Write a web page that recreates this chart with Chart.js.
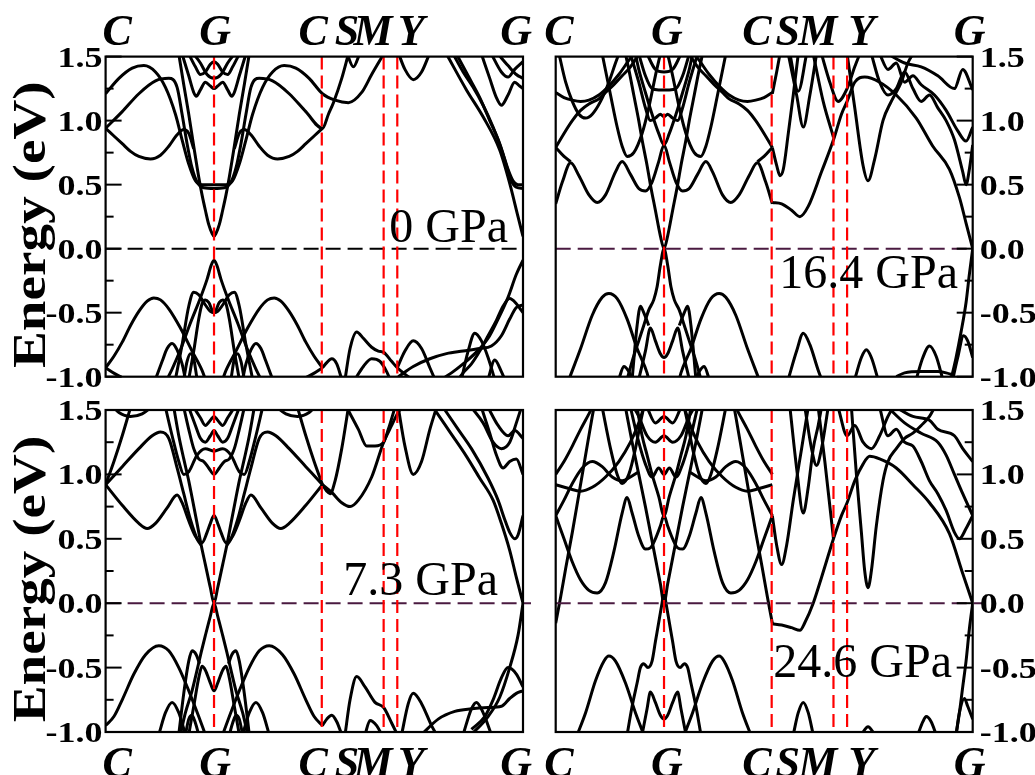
<!DOCTYPE html>
<html><head><meta charset="utf-8">
<script src="https://cdn.jsdelivr.net/npm/chart.js@4.4.1/dist/chart.umd.min.js"></script>
<style>
html,body{margin:0;padding:0;background:#fff;width:1035px;height:775px;overflow:hidden}
canvas{position:absolute;left:0;top:0}
.fl{position:absolute;left:-2000px;top:0;font-family:"Liberation Serif"}
</style></head>
<body>
<div class="fl" style="font-weight:bold">1.5 Energy</div>
<div class="fl" style="font-weight:bold;font-style:italic">CGSMY</div>
<div class="fl">0 GPa</div>
<canvas id="p0" width="1035" height="775"></canvas>
<canvas id="p1" width="1035" height="775"></canvas>
<canvas id="p2" width="1035" height="775"></canvas>
<canvas id="p3" width="1035" height="775"></canvas>
<script>
// ---------- k-path / axis data ----------
const K_END = 2.51;
const K_LINES = [0.652, 1.300, 1.672, 1.754];           // G, C, M, Y (dashed red)
const K_LABELS = ['C','G','C','S','M','Y','G'];
const KPOS_LEFT  = [0.069, 0.658, 1.248, 1.452, 1.608, 1.837, 2.469];
const KPOS_RIGHT = [0.020, 0.669, 1.211, 1.397, 1.578, 1.842, 2.492];
const Y_MIN = -1.0, Y_MAX = 1.5;
const Y_MAJOR = [1.5, 1.0, 0.5, 0.0, -0.5, -1.0];
const Y_MAJOR_LABELS = ['1.5','1.0','0.5','0.0','-0.5','-1.0'];
const Y_MINOR = [1.25, 0.75, 0.25, -0.25, -0.75];
const PRESSURES = ['0 GPa','16.4 GPa','7.3 GPa','24.6 GPa'];

// ---------- band data [k, E(eV)] ----------
const BANDS_0GPA = [
 [[0,1.21],[0.08,1.33],[0.16,1.41],[0.23,1.43],[0.3,1.38],[0.36,1.26],[0.42,1.05],[0.46,0.85],[0.5,0.66],[0.54,0.53],[0.58,0.5],[0.652,0.5],[0.724,0.5],[0.764,0.53],[0.804,0.66],[0.844,0.85],[0.884,1.05],[0.944,1.26],[1.004,1.38],[1.074,1.43],[1.144,1.41],[1.224,1.33],[1.304,1.21],[1.38,1.16],[1.46,1.14],[1.54,1.22],[1.6,1.36],[1.672,1.52]],
 [[0,0.94],[0.1,1.07],[0.2,1.21],[0.3,1.31],[0.38,1.33],[0.43,1.26],[0.46,1.05],[0.49,0.82],[0.52,0.63],[0.55,0.52],[0.59,0.475],[0.652,0.47],[0.714,0.475],[0.754,0.52],[0.784,0.63],[0.814,0.82],[0.844,1.05],[0.874,1.26],[0.924,1.33],[1.004,1.31],[1.104,1.21],[1.204,1.07],[1.304,0.94],[1.34,1.05],[1.37,1.14],[1.42,1.33],[1.46,1.52]],
 [[0,0.94],[0.05,0.88],[0.1,0.82],[0.15,0.76],[0.2,0.72],[0.27,0.7],[0.33,0.73],[0.38,0.8],[0.43,0.89],[0.47,0.93],[0.5,0.9],[0.53,0.78]],
 [[0.774,0.78],[0.804,0.9],[0.834,0.93],[0.874,0.89],[0.924,0.8],[0.974,0.73],[1.034,0.7],[1.104,0.72],[1.154,0.76],[1.204,0.82],[1.254,0.88],[1.304,0.94]],
 [[0.44,1.52],[0.47,1.28],[0.5,1.05],[0.53,0.8],[0.56,0.56],[0.58,0.42],[0.6,0.3],[0.62,0.19],[0.64,0.12],[0.652,0.096],[0.664,0.12],[0.684,0.19],[0.704,0.3],[0.724,0.42],[0.744,0.56],[0.774,0.8],[0.804,1.05],[0.834,1.28],[0.864,1.52]],
 [[0.46,1.52],[0.5,1.35],[0.53,1.22],[0.545,1.19],[0.57,1.24],[0.6,1.3],[0.63,1.27],[0.652,1.25],[0.674,1.27],[0.704,1.3],[0.734,1.24],[0.759,1.19],[0.774,1.22],[0.804,1.35],[0.844,1.52]],
 [[0.5,1.52],[0.54,1.42],[0.57,1.36],[0.6,1.38],[0.63,1.44],[0.652,1.46],[0.674,1.44],[0.704,1.38],[0.734,1.36],[0.764,1.42],[0.804,1.52]],
 [[0.53,1.52],[0.57,1.45],[0.61,1.36],[0.652,1.33],[0.694,1.36],[0.734,1.45],[0.774,1.52]],
 [[1.45,1.53],[1.49,1.42],[1.53,1.53]],
 [[1.76,1.53],[1.8,1.4],[1.85,1.32],[1.9,1.38],[1.95,1.53]],
 [[2.05,1.52],[2.17,1.24],[2.27,1.03],[2.37,0.77],[2.43,0.51],[2.48,0.25],[2.51,0.096]],
 [[2.09,1.52],[2.15,1.38],[2.21,1.26],[2.27,1.12],[2.33,0.95],[2.38,0.78],[2.42,0.62],[2.45,0.53],[2.48,0.5],[2.51,0.5]],
 [[2.11,1.52],[2.18,1.35],[2.25,1.18],[2.31,1.0],[2.37,0.82],[2.41,0.65],[2.44,0.53],[2.47,0.48],[2.51,0.47]],
 [[2.26,1.52],[2.31,1.33],[2.35,1.18],[2.38,1.12],[2.42,1.2],[2.46,1.3],[2.49,1.27],[2.51,1.25]],
 [[2.32,1.52],[2.38,1.38],[2.42,1.34],[2.46,1.4],[2.51,1.46]],
 [[2.36,1.52],[2.42,1.43],[2.47,1.36],[2.51,1.33]],
 [[0.37,-1.02],[0.4,-0.94],[0.45,-0.79],[0.51,-0.58],[0.57,-0.385],[0.61,-0.24],[0.635,-0.13],[0.652,-0.09],[0.669,-0.13],[0.694,-0.24],[0.734,-0.385],[0.794,-0.58],[0.854,-0.79],[0.904,-0.94],[0.934,-1.02]],
 [[0,-0.93],[0.05,-0.84],[0.1,-0.73],[0.15,-0.6],[0.2,-0.49],[0.25,-0.41],[0.29,-0.385],[0.33,-0.4],[0.38,-0.47],[0.45,-0.62],[0.52,-0.8],[0.58,-0.95],[0.6,-1.02]],
 [[0.704,-1.02],[0.724,-0.95],[0.784,-0.8],[0.854,-0.62],[0.924,-0.47],[0.974,-0.4],[1.014,-0.385],[1.054,-0.41],[1.104,-0.49],[1.154,-0.6],[1.204,-0.73],[1.254,-0.84],[1.304,-0.93]],
 [[0.42,-1.02],[0.46,-0.75],[0.5,-0.45],[0.53,-0.34],[0.56,-0.36],[0.6,-0.44],[0.63,-0.49],[0.652,-0.5],[0.674,-0.49],[0.704,-0.44],[0.744,-0.36],[0.774,-0.34],[0.804,-0.45],[0.844,-0.75],[0.884,-1.02]],
 [[0.5,-1.02],[0.53,-0.8],[0.56,-0.55],[0.58,-0.43],[0.6,-0.4],[0.62,-0.42],[0.652,-0.5],[0.684,-0.42],[0.704,-0.4],[0.724,-0.43],[0.744,-0.55],[0.774,-0.8],[0.804,-1.02]],
 [[0.3,-1.02],[0.34,-0.88],[0.37,-0.78],[0.4,-0.74],[0.43,-0.79],[0.46,-0.9],[0.48,-1.02]],
 [[0.824,-1.02],[0.844,-0.9],[0.874,-0.79],[0.904,-0.74],[0.934,-0.78],[0.964,-0.88],[1.004,-1.02]],
 [[0.47,-1.02],[0.49,-0.88],[0.51,-0.82],[0.53,-0.86],[0.55,-1.02]],
 [[0.754,-1.02],[0.774,-0.86],[0.794,-0.82],[0.814,-0.88],[0.834,-1.02]],
 [[0,-0.93],[0.06,-0.98],[0.12,-1.02]],
 [[1.184,-1.02],[1.244,-0.98],[1.304,-0.93]],
 [[1.304,-0.93],[1.33,-0.89],[1.36,-0.86],[1.39,-0.9],[1.42,-1.02]],
 [[1.44,-1.02],[1.47,-0.78],[1.51,-0.65],[1.55,-0.7],[1.6,-0.77],[1.64,-0.8],[1.672,-0.81],[1.72,-0.88],[1.754,-0.93],[1.8,-0.98],[1.84,-1.02]],
 [[1.754,-0.93],[1.8,-0.8],[1.85,-0.72],[1.9,-0.78],[1.95,-0.93],[1.98,-1.02]],
 [[1.5,-1.02],[1.55,-0.92],[1.6,-0.86],[1.65,-0.88],[1.69,-0.96],[1.71,-1.02]],
 [[1.76,-1.0],[1.85,-0.92],[1.95,-0.86],[2.05,-0.82],[2.15,-0.8],[2.25,-0.78],[2.32,-0.76],[2.38,-0.68],[2.43,-0.55],[2.47,-0.46],[2.51,-0.44]],
 [[2.02,-1.02],[2.08,-0.97],[2.15,-0.9],[2.22,-0.82],[2.3,-0.7],[2.36,-0.55],[2.42,-0.38],[2.47,-0.2],[2.51,-0.09]],
 [[2.12,-1.02],[2.15,-0.97],[2.2,-0.9],[2.25,-0.8],[2.3,-0.68],[2.35,-0.56],[2.39,-0.45],[2.43,-0.39],[2.47,-0.43],[2.51,-0.5]],
 [[2.14,-1.02],[2.18,-0.8],[2.22,-0.66],[2.26,-0.72],[2.3,-0.85],[2.34,-1.02]],
 [[2.3,-1.02],[2.34,-0.87],[2.38,-0.96],[2.4,-1.02]]
];

const BANDS_7GPA = [
 [[0,0.92],[0.1,1.06],[0.2,1.2],[0.28,1.3],[0.33,1.33],[0.38,1.28],[0.43,1.05],[0.47,0.85],[0.51,0.65],[0.55,0.5],[0.575,0.45]],
 [[0.729,0.45],[0.754,0.5],[0.794,0.65],[0.834,0.85],[0.874,1.05],[0.924,1.28],[0.974,1.33],[1.024,1.3],[1.104,1.2],[1.204,1.06],[1.304,0.92]],
 [[0,0.92],[0.1,0.76],[0.2,0.62],[0.25,0.58],[0.3,0.62],[0.37,0.74],[0.43,0.84],[0.46,0.78],[0.5,0.64],[0.54,0.52],[0.58,0.47],[0.61,0.55],[0.63,0.62],[0.652,0.68],[0.674,0.62],[0.694,0.55],[0.724,0.47],[0.764,0.52],[0.804,0.64],[0.844,0.78],[0.874,0.84],[0.934,0.74],[1.004,0.62],[1.054,0.58],[1.104,0.62],[1.204,0.76],[1.304,0.92]],
 [[0.41,1.52],[0.44,1.3],[0.47,1.12],[0.5,0.95],[0.52,0.82],[0.55,0.62],[0.575,0.45],[0.6,0.3],[0.63,0.12],[0.652,0.0],[0.674,0.12],[0.704,0.3],[0.729,0.45],[0.754,0.62],[0.784,0.82],[0.804,0.95],[0.834,1.12],[0.864,1.3],[0.894,1.52]],
 [[0,0.92],[0.05,1.1],[0.1,1.3],[0.15,1.52]],
 [[1.154,1.52],[1.204,1.3],[1.254,1.1],[1.304,0.92]],
 [[0.03,1.55],[0.08,1.48],[0.15,1.45],[0.22,1.47],[0.3,1.55]],
 [[1.004,1.55],[1.084,1.47],[1.154,1.45],[1.224,1.48],[1.274,1.55]],
 [[0.47,1.52],[0.5,1.35],[0.53,1.2],[0.56,1.12],[0.59,1.1],[0.62,1.05],[0.652,1.0],[0.684,1.05],[0.714,1.1],[0.744,1.12],[0.774,1.2],[0.804,1.35],[0.834,1.52]],
 [[0.5,1.52],[0.54,1.38],[0.57,1.28],[0.6,1.25],[0.63,1.3],[0.652,1.34],[0.674,1.3],[0.704,1.25],[0.734,1.28],[0.764,1.38],[0.804,1.52]],
 [[0.53,1.52],[0.57,1.44],[0.6,1.38],[0.63,1.42],[0.652,1.45],[0.674,1.42],[0.704,1.38],[0.734,1.44],[0.774,1.52]],
 [[0.36,1.52],[0.4,1.3],[0.44,1.1],[0.47,1.0],[0.5,1.02],[0.55,1.15],[0.6,1.2],[0.652,1.18],[0.704,1.2],[0.754,1.15],[0.804,1.02],[0.834,1.0],[0.864,1.1],[0.904,1.3],[0.944,1.52]],
 [[1.304,0.92],[1.36,0.86],[1.42,0.78],[1.47,0.75],[1.52,0.8],[1.6,0.98],[1.672,1.25],[1.72,1.38],[1.754,1.47],[1.78,1.52]],
 [[1.304,0.92],[1.33,0.87],[1.35,0.85],[1.38,0.95],[1.42,1.2],[1.46,1.52]],
 [[1.45,1.52],[1.52,1.35],[1.57,1.22],[1.62,1.22],[1.672,1.25],[1.7,1.35],[1.74,1.52]],
 [[1.76,1.52],[1.8,1.22],[1.85,1.0],[1.9,1.1],[1.95,1.35],[1.99,1.52]],
 [[1.97,1.52],[2.07,1.33],[2.17,1.14],[2.25,0.97],[2.33,0.8],[2.38,0.62],[2.43,0.41],[2.47,0.2],[2.51,0.0]],
 [[2.03,1.52],[2.12,1.35],[2.2,1.2],[2.3,0.97],[2.36,0.8],[2.4,0.65],[2.43,0.55],[2.46,0.5],[2.48,0.53],[2.51,0.68]],
 [[2.26,1.52],[2.31,1.32],[2.35,1.15],[2.39,1.05],[2.43,1.1],[2.47,1.12],[2.51,1.0]],
 [[2.3,1.52],[2.36,1.38],[2.42,1.3],[2.46,1.34],[2.51,1.28]],
 [[2.2,1.52],[2.27,1.4],[2.33,1.25],[2.38,1.2],[2.43,1.25],[2.47,1.4],[2.5,1.52]],
 [[0.45,-1.02],[0.48,-0.85],[0.52,-0.68],[0.55,-0.52],[0.575,-0.38],[0.6,-0.25],[0.63,-0.1],[0.652,0.0],[0.674,-0.1],[0.704,-0.25],[0.729,-0.38],[0.754,-0.52],[0.784,-0.68],[0.824,-0.85],[0.854,-1.02]],
 [[0,-0.95],[0.05,-0.88],[0.1,-0.75],[0.17,-0.55],[0.24,-0.4],[0.32,-0.33],[0.38,-0.37],[0.44,-0.5],[0.5,-0.68],[0.56,-0.88],[0.6,-1.02]],
 [[0.704,-1.02],[0.744,-0.88],[0.804,-0.68],[0.864,-0.5],[0.924,-0.37],[0.984,-0.33],[1.064,-0.4],[1.134,-0.55],[1.204,-0.75],[1.254,-0.88],[1.304,-0.95]],
 [[0.5,-1.02],[0.53,-0.8],[0.56,-0.58],[0.58,-0.49],[0.6,-0.52],[0.63,-0.62],[0.652,-0.68],[0.674,-0.62],[0.704,-0.52],[0.724,-0.49],[0.744,-0.58],[0.774,-0.8],[0.804,-1.02]],
 [[0.44,-1.02],[0.47,-0.7],[0.5,-0.45],[0.52,-0.37],[0.545,-0.4],[0.565,-0.47]],
 [[0.739,-0.47],[0.759,-0.4],[0.784,-0.37],[0.804,-0.45],[0.834,-0.7],[0.864,-1.02]],
 [[0.32,-1.02],[0.36,-0.85],[0.4,-0.77],[0.44,-0.85],[0.48,-1.02]],
 [[0.824,-1.02],[0.864,-0.85],[0.904,-0.77],[0.944,-0.85],[0.984,-1.02]],
 [[0.48,-1.02],[0.5,-0.9],[0.52,-0.87],[0.54,-0.93],[0.56,-1.02]],
 [[0.744,-1.02],[0.764,-0.93],[0.784,-0.87],[0.804,-0.9],[0.824,-1.02]],
 [[1.304,-0.95],[1.33,-0.9],[1.36,-0.87],[1.39,-0.92],[1.42,-1.02]],
 [[1.44,-1.02],[1.47,-0.75],[1.51,-0.57],[1.56,-0.65],[1.62,-0.77],[1.672,-0.81],[1.72,-0.93],[1.754,-1.02]],
 [[1.78,-1.02],[1.82,-0.78],[1.85,-0.7],[1.9,-0.78],[1.96,-0.95],[1.99,-1.02]],
 [[1.56,-1.02],[1.59,-0.91],[1.63,-0.95],[1.66,-1.02]],
 [[1.9,-1.02],[2.0,-0.9],[2.1,-0.84],[2.2,-0.82],[2.3,-0.81],[2.38,-0.8],[2.43,-0.74],[2.47,-0.7],[2.51,-0.68]],
 [[2.2,-1.02],[2.3,-0.88],[2.37,-0.73],[2.43,-0.5],[2.48,-0.25],[2.51,0.0]],
 [[2.2,-0.98],[2.28,-0.88],[2.33,-0.75],[2.38,-0.58],[2.42,-0.5],[2.47,-0.55],[2.51,-0.65]],
 [[2.15,-1.02],[2.2,-0.82],[2.23,-0.77],[2.27,-0.85],[2.32,-1.02]]
];

const BANDS_16GPA = [
 [[0,0.35],[0.04,0.52],[0.09,0.67],[0.14,0.57],[0.2,0.42],[0.25,0.36],[0.3,0.42],[0.36,0.6],[0.4,0.68],[0.45,0.58],[0.5,0.47],[0.54,0.45],[0.58,0.52],[0.62,0.68],[0.652,0.81],[0.684,0.68],[0.724,0.52],[0.764,0.45],[0.804,0.47],[0.854,0.58],[0.904,0.68],[0.944,0.6],[1.004,0.42],[1.054,0.36],[1.104,0.42],[1.164,0.57],[1.214,0.67],[1.264,0.52],[1.304,0.35]],
 [[0.42,1.52],[0.44,1.4],[0.47,1.2],[0.5,1.0],[0.52,0.85],[0.55,0.65],[0.57,0.5],[0.6,0.3],[0.63,0.1],[0.652,0.0],[0.674,0.1],[0.704,0.3],[0.734,0.5],[0.754,0.65],[0.784,0.85],[0.804,1.0],[0.834,1.2],[0.864,1.4],[0.884,1.52]],
 [[0.48,1.52],[0.5,1.4],[0.54,1.22],[0.58,1.05],[0.62,0.9],[0.652,0.81],[0.684,0.9],[0.724,1.05],[0.764,1.22],[0.804,1.4],[0.824,1.52]],
 [[0,0.79],[0.05,0.9],[0.1,1.0],[0.15,1.08],[0.2,1.13],[0.26,1.17],[0.3,1.22],[0.35,1.28],[0.4,1.35],[0.45,1.42],[0.5,1.52]],
 [[0.804,1.52],[0.854,1.42],[0.904,1.35],[0.954,1.28],[1.004,1.22],[1.044,1.17],[1.104,1.13],[1.154,1.08],[1.204,1.0],[1.254,0.9],[1.304,0.79]],
 [[0,0.79],[0.05,0.72],[0.09,0.68]],
 [[1.214,0.68],[1.254,0.72],[1.304,0.79]],
 [[0,1.22],[0.05,1.18],[0.1,1.16],[0.15,1.15],[0.2,1.16],[0.26,1.2],[0.32,1.27],[0.38,1.36],[0.44,1.47],[0.47,1.52]],
 [[0.834,1.52],[0.864,1.47],[0.924,1.36],[0.984,1.27],[1.044,1.2],[1.104,1.16],[1.154,1.15],[1.204,1.16],[1.254,1.18],[1.304,1.22]],
 [[0.5,1.52],[0.54,1.35],[0.58,1.25],[0.62,1.24],[0.652,1.24],[0.684,1.24],[0.724,1.25],[0.764,1.35],[0.804,1.52]],
 [[0.45,1.52],[0.5,1.3],[0.54,1.1],[0.57,1.0],[0.6,1.02],[0.63,1.05],[0.652,1.03],[0.674,1.05],[0.704,1.02],[0.734,1.0],[0.764,1.1],[0.804,1.3],[0.854,1.52]],
 [[0.55,1.52],[0.6,1.4],[0.652,1.38],[0.704,1.4],[0.754,1.52]],
 [[0.28,1.52],[0.33,1.2],[0.37,0.95],[0.4,0.8],[0.43,0.72],[0.47,0.75],[0.52,0.9],[0.56,1.1],[0.6,1.35],[0.63,1.52]],
 [[0.674,1.52],[0.704,1.35],[0.744,1.1],[0.784,0.9],[0.834,0.75],[0.874,0.72],[0.904,0.8],[0.934,0.95],[0.974,1.2],[1.024,1.52]],
 [[0.02,1.52],[0.06,1.3],[0.1,1.15],[0.14,1.05],[0.18,1.02],[0.22,1.05],[0.27,1.15],[0.32,1.3],[0.36,1.45],[0.38,1.52]],
 [[1.304,0.36],[1.36,0.35],[1.42,0.3],[1.47,0.25],[1.52,0.33],[1.6,0.6],[1.672,0.85],[1.72,1.05],[1.754,1.15],[1.8,1.3],[1.86,1.34],[1.95,1.3],[2.05,1.2],[2.17,1.02],[2.27,0.8],[2.37,0.62],[2.43,0.4],[2.47,0.2],[2.51,0.0]],
 [[1.304,0.79],[1.33,0.65],[1.35,0.57],[1.37,0.62],[1.4,0.9],[1.43,1.2],[1.46,1.52]],
 [[1.304,1.21],[1.33,1.38],[1.35,1.52]],
 [[1.4,1.52],[1.45,1.2],[1.49,0.95],[1.53,1.2],[1.57,1.52]],
 [[1.41,1.52],[1.46,1.23],[1.51,1.52]],
 [[1.55,1.52],[1.61,1.15],[1.672,0.87]],
 [[1.754,1.52],[1.8,1.1],[1.85,0.65],[1.88,0.53],[1.92,0.7],[1.97,1.0],[2.02,1.15],[2.08,1.3],[2.12,1.45],[2.15,1.52]],
 [[1.9,1.52],[1.95,1.3],[2.0,1.2],[2.05,1.25],[2.1,1.38],[2.15,1.25],[2.2,1.15],[2.25,1.2],[2.3,1.1],[2.35,1.0],[2.4,0.85],[2.45,0.6],[2.47,0.5],[2.49,0.62],[2.51,0.81]],
 [[1.95,1.52],[2.0,1.4],[2.05,1.45],[2.1,1.3],[2.15,1.35],[2.2,1.28],[2.28,1.2],[2.35,1.08],[2.42,0.92],[2.47,0.84],[2.51,0.95]],
 [[2.0,1.52],[2.1,1.45],[2.2,1.42],[2.3,1.35],[2.4,1.25],[2.45,1.4],[2.51,1.24]],
 [[1.6,1.52],[1.65,1.3],[1.7,1.15],[1.754,1.25],[1.8,1.42],[1.83,1.52]],
 [[0.43,-1.02],[0.46,-0.88],[0.5,-0.72],[0.53,-0.6],[0.56,-0.48],[0.59,-0.4],[0.61,-0.3],[0.63,-0.13],[0.652,0.0],[0.674,-0.13],[0.694,-0.3],[0.714,-0.4],[0.744,-0.48],[0.774,-0.6],[0.804,-0.72],[0.844,-0.88],[0.874,-1.02]],
 [[0.08,-1.02],[0.15,-0.78],[0.22,-0.52],[0.28,-0.38],[0.32,-0.35],[0.37,-0.39],[0.43,-0.55],[0.49,-0.78],[0.55,-0.97],[0.56,-1.02]],
 [[0.744,-1.02],[0.754,-0.97],[0.814,-0.78],[0.874,-0.55],[0.934,-0.39],[0.984,-0.35],[1.024,-0.38],[1.084,-0.52],[1.154,-0.78],[1.224,-1.02]],
 [[0.5,-1.02],[0.54,-0.8],[0.57,-0.62],[0.6,-0.72],[0.63,-0.82],[0.652,-0.85],[0.674,-0.82],[0.704,-0.72],[0.734,-0.62],[0.764,-0.8],[0.804,-1.02]],
 [[0.46,-1.02],[0.49,-0.6],[0.51,-0.45],[0.53,-0.5],[0.56,-0.6]],
 [[0.744,-0.6],[0.774,-0.5],[0.794,-0.45],[0.814,-0.6],[0.844,-1.02]],
 [[0.38,-1.02],[0.41,-0.92],[0.44,-0.96],[0.46,-1.02]],
 [[0.844,-1.02],[0.864,-0.96],[0.894,-0.92],[0.924,-1.02]],
 [[1.4,-1.02],[1.45,-0.8],[1.49,-0.66],[1.53,-0.75],[1.58,-0.95],[1.6,-1.02]],
 [[1.8,-1.02],[1.84,-0.85],[1.87,-0.79],[1.9,-0.85],[1.94,-1.02]],
 [[2.17,-1.02],[2.21,-0.85],[2.25,-0.76],[2.29,-0.84],[2.33,-1.02]],
 [[2.05,-1.0],[2.1,-0.97],[2.2,-0.96],[2.3,-0.96],[2.35,-0.97],[2.4,-0.99]],
 [[2.38,-1.02],[2.41,-0.85],[2.44,-0.65],[2.47,-0.42],[2.49,-0.2],[2.51,0.0]],
 [[2.39,-1.02],[2.42,-0.85],[2.455,-0.68],[2.48,-0.72],[2.51,-0.85]]
];

const BANDS_24GPA = [
 [[0,0.68],[0.05,0.5],[0.1,0.32],[0.15,0.18],[0.2,0.1],[0.25,0.08],[0.3,0.16],[0.35,0.4],[0.4,0.7],[0.43,0.82],[0.46,0.7],[0.5,0.52],[0.54,0.42],[0.57,0.43],[0.6,0.5],[0.63,0.6],[0.652,0.68],[0.674,0.6],[0.704,0.5],[0.734,0.43],[0.764,0.42],[0.804,0.52],[0.844,0.7],[0.874,0.82],[0.904,0.7],[0.954,0.4],[1.004,0.16],[1.054,0.08],[1.104,0.1],[1.154,0.18],[1.204,0.32],[1.254,0.5],[1.304,0.68]],
 [[0,-0.155],[0.03,0.05],[0.06,0.27],[0.1,0.55],[0.14,0.85],[0.18,1.15],[0.22,1.45],[0.23,1.52]],
 [[1.074,1.52],[1.084,1.45],[1.124,1.15],[1.164,0.85],[1.204,0.55],[1.244,0.27],[1.274,0.05],[1.304,-0.155]],
 [[0,0.68],[0.05,0.8],[0.1,0.93],[0.16,1.05],[0.22,1.1],[0.28,1.06],[0.34,0.98],[0.4,0.95],[0.45,0.98],[0.5,1.02]],
 [[0.804,1.02],[0.854,0.98],[0.904,0.95],[0.964,0.98],[1.024,1.06],[1.084,1.1],[1.144,1.05],[1.204,0.93],[1.254,0.8],[1.304,0.68]],
 [[0,0.92],[0.08,0.89],[0.15,0.87],[0.22,0.9],[0.3,0.98],[0.38,1.1],[0.45,1.25],[0.5,1.4],[0.53,1.52]],
 [[0.774,1.52],[0.804,1.4],[0.854,1.25],[0.924,1.1],[1.004,0.98],[1.084,0.9],[1.154,0.87],[1.224,0.89],[1.304,0.92]],
 [[0,1.0],[0.05,1.1],[0.1,1.22],[0.15,1.35],[0.2,1.47],[0.22,1.52]],
 [[1.084,1.52],[1.104,1.47],[1.154,1.35],[1.204,1.22],[1.254,1.1],[1.304,1.0]],
 [[0.42,1.52],[0.46,1.25],[0.5,1.0],[0.54,0.75],[0.57,0.55],[0.6,0.35],[0.63,0.15],[0.652,0.0],[0.674,0.15],[0.704,0.35],[0.734,0.55],[0.764,0.75],[0.804,1.0],[0.844,1.25],[0.884,1.52]],
 [[0.49,1.52],[0.52,1.3],[0.55,1.15],[0.58,1.0],[0.62,0.83],[0.652,0.68],[0.684,0.83],[0.724,1.0],[0.754,1.15],[0.784,1.3],[0.814,1.52]],
 [[0.45,1.52],[0.5,1.25],[0.54,1.08],[0.58,0.98],[0.62,1.05],[0.652,1.0],[0.684,1.05],[0.724,0.98],[0.764,1.08],[0.804,1.25],[0.854,1.52]],
 [[0.47,1.52],[0.5,1.45],[0.55,1.3],[0.6,1.25],[0.652,1.3],[0.704,1.25],[0.754,1.3],[0.804,1.45],[0.834,1.52]],
 [[0.55,1.52],[0.6,1.4],[0.652,1.45],[0.704,1.4],[0.754,1.52]],
 [[0.28,1.52],[0.33,1.2],[0.37,1.0],[0.4,0.93],[0.44,1.0],[0.48,1.2],[0.51,1.4],[0.53,1.52]],
 [[0.774,1.52],[0.794,1.4],[0.824,1.2],[0.864,1.0],[0.904,0.93],[0.934,1.0],[0.974,1.2],[1.024,1.52]],
 [[1.304,-0.16],[1.36,-0.17],[1.42,-0.19],[1.47,-0.21],[1.5,-0.15],[1.55,0.0],[1.6,0.2],[1.672,0.5],[1.72,0.68],[1.754,0.78],[1.8,0.95],[1.85,1.08],[1.89,1.14],[1.95,1.12],[2.05,1.05],[2.15,0.92],[2.25,0.78],[2.37,0.54],[2.45,0.23],[2.51,0.0]],
 [[1.304,0.68],[1.33,0.45],[1.36,0.3],[1.39,0.45],[1.43,0.8],[1.48,1.2],[1.52,1.52]],
 [[1.41,1.52],[1.45,1.05],[1.49,0.7],[1.52,0.9],[1.55,1.2],[1.58,1.38],[1.6,1.52]],
 [[1.5,1.52],[1.54,1.2],[1.57,1.07],[1.6,1.2],[1.64,1.52]],
 [[1.58,1.52],[1.62,1.1],[1.672,0.5]],
 [[1.78,1.52],[1.81,1.0],[1.84,0.55],[1.86,0.25],[1.88,0.12],[1.9,0.25],[1.93,0.6],[1.97,0.95],[2.0,1.1],[2.05,1.2],[2.1,1.28],[2.15,1.32],[2.2,1.38],[2.25,1.45],[2.28,1.52]],
 [[1.95,1.52],[2.0,1.3],[2.05,1.35],[2.1,1.25],[2.15,1.22],[2.2,1.1],[2.25,0.95],[2.3,0.85],[2.35,0.72],[2.4,0.55],[2.43,0.5],[2.47,0.58],[2.51,0.68]],
 [[2.0,1.52],[2.1,1.4],[2.2,1.32],[2.3,1.25],[2.35,1.15],[2.4,1.0],[2.45,0.85],[2.51,0.68]],
 [[2.05,1.52],[2.15,1.45],[2.25,1.42],[2.3,1.35],[2.4,1.3],[2.45,1.2],[2.51,1.1]],
 [[1.7,1.52],[1.754,1.3],[1.8,1.38],[1.85,1.25],[1.9,1.2],[1.95,1.3],[2.0,1.45],[2.03,1.52]],
 [[0.43,-1.02],[0.46,-0.8],[0.49,-0.62],[0.51,-0.5],[0.53,-0.47],[0.555,-0.5],[0.58,-0.45],[0.6,-0.3],[0.62,-0.15],[0.64,0.0],[0.652,0.08],[0.664,0.0],[0.684,-0.15],[0.704,-0.3],[0.724,-0.45],[0.749,-0.5],[0.774,-0.47],[0.794,-0.5],[0.814,-0.62],[0.844,-0.8],[0.874,-1.02]],
 [[0.13,-1.02],[0.18,-0.85],[0.24,-0.6],[0.29,-0.45],[0.32,-0.41],[0.36,-0.45],[0.42,-0.62],[0.48,-0.85],[0.53,-1.02]],
 [[0.774,-1.02],[0.824,-0.85],[0.884,-0.62],[0.944,-0.45],[0.984,-0.41],[1.014,-0.45],[1.064,-0.6],[1.124,-0.85],[1.174,-1.02]],
 [[0.52,-1.02],[0.55,-0.82],[0.57,-0.69],[0.6,-0.77],[0.63,-0.87],[0.652,-0.9],[0.674,-0.87],[0.704,-0.77],[0.734,-0.69],[0.754,-0.82],[0.784,-1.02]],
 [[1.43,-1.02],[1.46,-0.85],[1.49,-0.77],[1.52,-0.85],[1.55,-1.02]],
 [[2.18,-1.02],[2.21,-0.92],[2.23,-0.88],[2.26,-0.92],[2.29,-1.02]],
 [[2.41,-1.02],[2.43,-0.85],[2.45,-0.65],[2.47,-0.45],[2.49,-0.2],[2.51,0.0]],
 [[2.41,-1.02],[2.43,-0.85],[2.46,-0.74],[2.48,-0.8],[2.51,-0.9]],
 [[1.84,-1.02],[1.88,-0.96],[1.92,-1.02]]
];

// ---------- layout ----------
const W = 1035, H = 775;
const SERIF = '"Liberation Serif", "Times New Roman", Times, serif';
const PANELS = [
 {canvas:'p0', bands:BANDS_0GPA,  box:[105.6,56.6,523,376.7],  side:'left',  kPos:KPOS_LEFT,  kRow:'top',    fermi:'#000000', fermiExt:0,  text:PRESSURES[0], tx:508, ty:242},
 {canvas:'p1', bands:BANDS_16GPA, box:[555.7,56.6,972.7,376.7], side:'right', kPos:KPOS_RIGHT, kRow:'top',    fermi:'#4a1a40', fermiExt:0,  text:PRESSURES[1], tx:958, ty:288},
 {canvas:'p2', bands:BANDS_7GPA,  box:[105.6,410,523,732],      side:'left',  kPos:KPOS_LEFT,  kRow:'bottom', fermi:'#4a1a40', fermiExt:8,  text:PRESSURES[2], tx:498, ty:595},
 {canvas:'p3', bands:BANDS_24GPA, box:[555.7,410,972.7,732],    side:'right', kPos:KPOS_RIGHT, kRow:'bottom', fermi:'#4a1a40', fermiExt:12, text:PRESSURES[3], tx:952, ty:677}
];

function stretchedText(ctx, txt, x, y, align, sx){
  ctx.save(); ctx.translate(x, y); ctx.scale(sx, 1);
  ctx.textAlign = align; ctx.textBaseline = 'alphabetic';
  ctx.fillText(txt, 0, 0); ctx.restore();
}

function deco(p){
  return {
    id: 'deco_' + p.canvas,
    afterDatasetsDraw(chart){
      const ctx = chart.ctx, a = chart.chartArea, xs = chart.scales.x, ys = chart.scales.y;
      ctx.save();
      const y0 = ys.getPixelForValue(0);
      ctx.setLineDash([15,7]); ctx.lineWidth = 2; ctx.strokeStyle = p.fermi;
      ctx.beginPath(); ctx.moveTo(a.left, y0); ctx.lineTo(a.right + p.fermiExt, y0); ctx.stroke();
      ctx.setLineDash([13,6]); ctx.strokeStyle = '#ff0000'; ctx.lineWidth = 2.2;
      K_LINES.forEach(k => { const x = xs.getPixelForValue(k);
        ctx.beginPath(); ctx.moveTo(x, a.top); ctx.lineTo(x, a.bottom); ctx.stroke(); });
      ctx.setLineDash([]);
      ctx.strokeStyle = '#000'; ctx.lineWidth = 2.2;
      ctx.strokeRect(a.left, a.top, a.right - a.left, a.bottom - a.top);
      const edge = p.side === 'left' ? a.left : a.right, dir = p.side === 'left' ? 1 : -1;
      ctx.lineWidth = 2;
      Y_MAJOR.forEach(v => { const y = ys.getPixelForValue(v);
        ctx.beginPath(); ctx.moveTo(edge, y); ctx.lineTo(edge + dir*16, y); ctx.stroke(); });
      Y_MINOR.forEach(v => { const y = ys.getPixelForValue(v);
        ctx.beginPath(); ctx.moveTo(edge, y); ctx.lineTo(edge + dir*8, y); ctx.stroke(); });
      ctx.fillStyle = '#000';
      ctx.font = 'bold 30px ' + SERIF;
      Y_MAJOR.forEach((v, i) => { const y = ys.getPixelForValue(v) + 10;
        if (p.side === 'left') stretchedText(ctx, Y_MAJOR_LABELS[i], a.left - 3, y, 'right', 1.2);
        else stretchedText(ctx, Y_MAJOR_LABELS[i], a.right + 7, y, 'left', 1.2); });
      ctx.font = 'bold italic 44px ' + SERIF;
      ctx.textAlign = 'center'; ctx.textBaseline = 'alphabetic';
      const ky = p.kRow === 'top' ? 45 : 777;
      K_LABELS.forEach((t, i) => ctx.fillText(t, xs.getPixelForValue(p.kPos[i]), ky));
      if (p.side === 'left') {
        ctx.save();
        ctx.translate(45, (a.top + a.bottom)/2 + 8);
        ctx.rotate(-Math.PI/2); ctx.scale(1.2, 1);
        ctx.font = 'bold 46px ' + SERIF; ctx.textAlign = 'center'; ctx.textBaseline = 'alphabetic';
        ctx.fillText('Energy (eV)', 0, 0);
        ctx.restore();
      }
      ctx.font = '48px ' + SERIF; ctx.textAlign = 'right'; ctx.textBaseline = 'alphabetic';
      ctx.fillText(p.text, p.tx, p.ty);
      ctx.restore();
    }
  };
}

const charts = [];
PANELS.forEach(p => {
  const datasets = p.bands.map(b => ({
    data: b.map(([x, y]) => ({x, y})),
    showLine: true, borderColor: '#000', borderWidth: 3,
    pointRadius: 0, pointHoverRadius: 0, fill: false,
    cubicInterpolationMode: 'monotone', clip: 0
  }));
  charts.push(new Chart(document.getElementById(p.canvas), {
    type: 'scatter',
    data: { datasets },
    options: {
      responsive: false, animation: false, events: [],
      layout: { padding: { left: p.box[0], top: p.box[1], right: W - p.box[2], bottom: H - p.box[3] } },
      scales: {
        x: { type: 'linear', min: 0, max: K_END, display: false },
        y: { type: 'linear', min: Y_MIN, max: Y_MAX, display: false }
      },
      plugins: { legend: { display: false }, tooltip: { enabled: false } }
    },
    plugins: [deco(p)]
  }));
});
const fontSpecs = ['bold 30px "Liberation Serif"','bold italic 44px "Liberation Serif"','48px "Liberation Serif"'];
if (document.fonts && document.fonts.load) {
  Promise.all(fontSpecs.map(f => document.fonts.load(f))).then(() => charts.forEach(c => c.draw())).catch(()=>{});
  document.fonts.ready.then(() => charts.forEach(c => c.draw()));
}
</script>
</body></html>
